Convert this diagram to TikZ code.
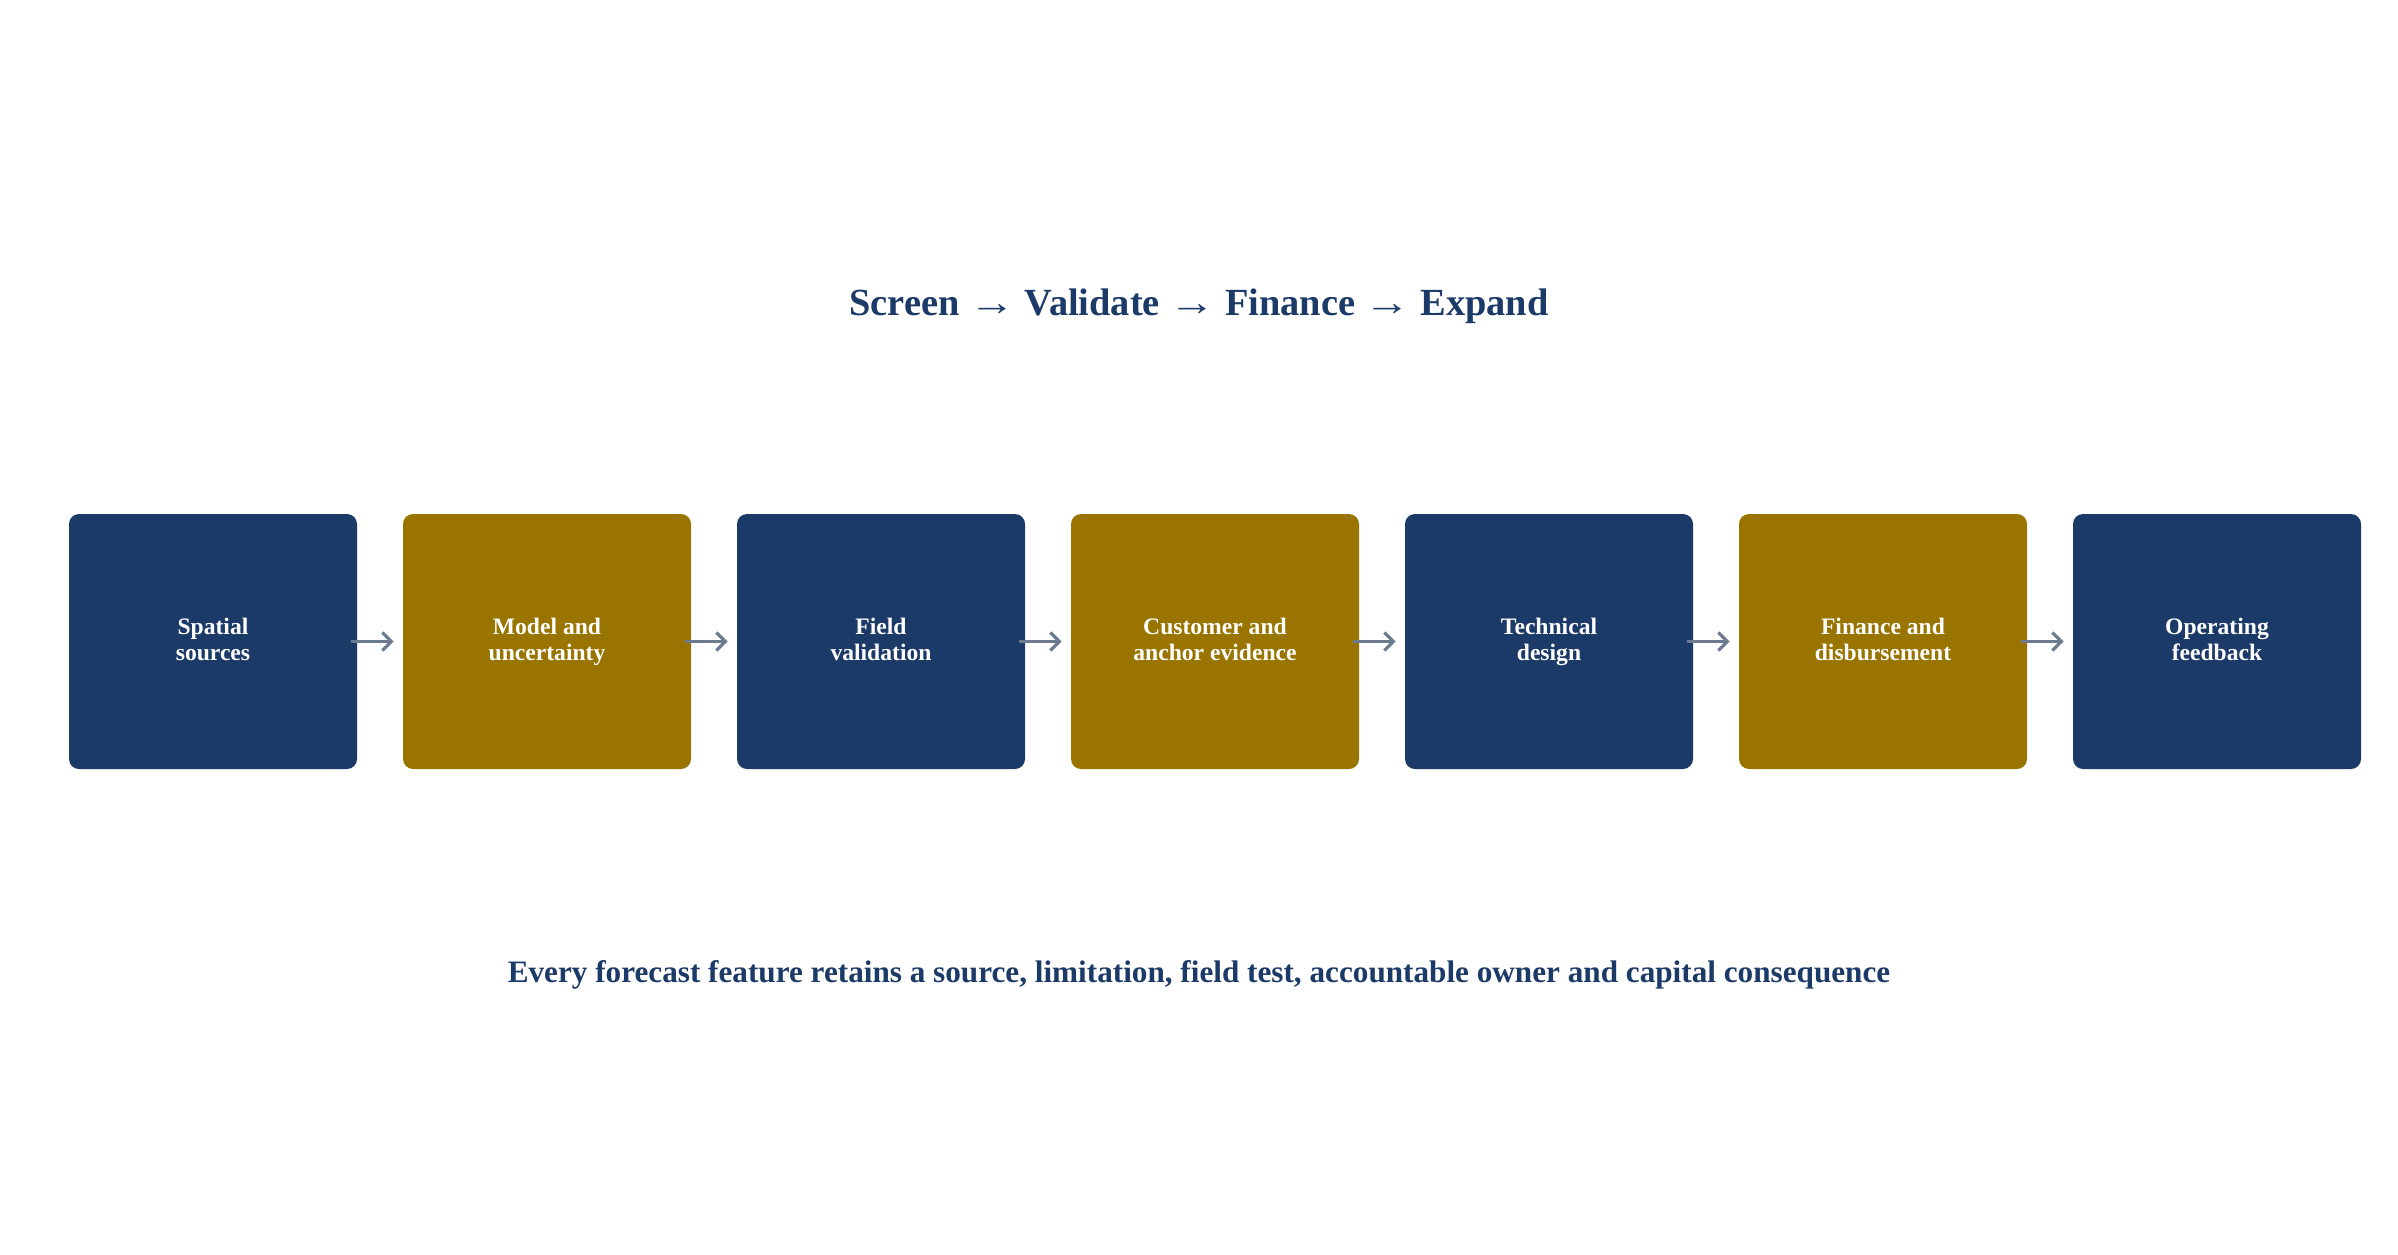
\documentclass[tikz,border=0pt]{standalone}
\usepackage{fontspec}
\usepackage{graphicx}
\setmainfont{Liberation Serif}
\usetikzlibrary{arrows.meta}
\definecolor{navy}{HTML}{1B3A68}
\definecolor{ochre}{HTML}{997500}
\definecolor{slate}{HTML}{6B7A8F}
\newcommand{\stagearrow}{\scalebox{1.2}[1]{→}}

\begin{document}
\begin{tikzpicture}[x=0.5pt, y=-0.5pt,
	stage/.style={rounded corners=5pt, minimum width=144pt, minimum height=127.5pt, inner sep=0pt, align=center, text=white, font=\fontsize{11.8}{12.8}\selectfont\bfseries, text height=21.5pt, text depth=3pt},
	bluestage/.style={stage, fill=navy},
	goldstage/.style={stage, fill=ochre},
	flow/.style={slate, line width=1.6pt, -{Straight Barb[length=4.5pt,width=9pt]}, shorten <=-3pt, shorten >=4.5pt}]
	\useasboundingbox (0,0) rectangle (2398,1254);
	\node[text=navy, font=\fontsize{19.2}{24}\selectfont\bfseries] (title) at (1199, 306) {Screen \stagearrow{} Validate \stagearrow{} Finance \stagearrow{} Expand};
	\node[bluestage] (spatial) at (213, 641.5) {Spatial\\sources};
	\node[goldstage] (model) at (547, 641.5) {Model and\\uncertainty};
	\node[bluestage] (field) at (881, 641.5) {Field\\validation};
	\node[goldstage] (customer) at (1215, 641.5) {Customer and\\anchor evidence};
	\node[bluestage] (technical) at (1549, 641.5) {Technical\\design};
	\node[goldstage] (finance) at (1883, 641.5) {Finance and\\disbursement};
	\node[bluestage] (operating) at (2217, 641.5) {Operating\\feedback};
	\draw[flow] (spatial) -- (model);
	\draw[flow] (model) -- (field);
	\draw[flow] (field) -- (customer);
	\draw[flow] (customer) -- (technical);
	\draw[flow] (technical) -- (finance);
	\draw[flow] (finance) -- (operating);
	% closing line
	\node[text=navy, font=\fontsize{15.6}{18}\selectfont\bfseries] (motto) at (1199, 975) {Every forecast feature retains a source, limitation, field test, accountable owner and capital consequence};
\end{tikzpicture}
\end{document}
